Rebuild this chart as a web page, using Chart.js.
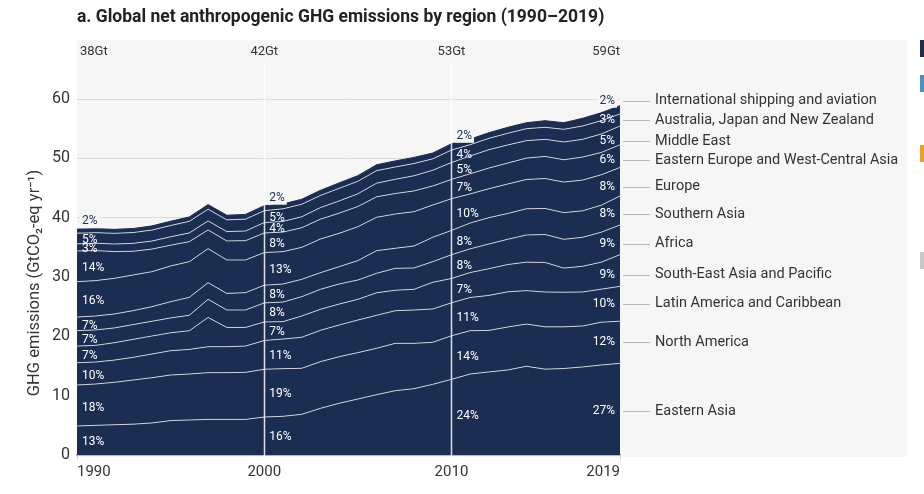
<!DOCTYPE html>
<html>
<head>
<meta charset="utf-8">
<title>Global net anthropogenic GHG emissions by region</title>
<script src="https://cdn.jsdelivr.net/npm/chart.js@4.4.1/dist/chart.umd.min.js"></script>
<style>
  html, body { margin: 0; padding: 0; background: #ffffff; }
  #wrap { width: 924px; height: 494px; }
</style>
</head>
<body>
<div id="wrap"><canvas id="ghgChart" width="924" height="494"></canvas></div>
<script>
// Years on the x axis
const years = [1990, 1991, 1992, 1993, 1994, 1995, 1996, 1997, 1998, 1999,
               2000, 2001, 2002, 2003, 2004, 2005, 2006, 2007, 2008, 2009,
               2010, 2011, 2012, 2013, 2014, 2015, 2016, 2017, 2018, 2019];
const tickYears = [1990, 2000, 2010, 2019];

// Emissions per region, GtCO2-eq per year (stacked bottom to top)
const easternAsia = [4.89, 5.0, 5.1, 5.2, 5.4, 5.8, 5.9, 6.0, 6.0, 6.0,
                     6.4, 6.52, 6.85, 7.86, 8.71, 9.44, 10.17, 10.84, 11.18, 11.91,
                     12.75, 13.65, 14.0, 14.33, 14.95, 14.47, 14.58, 14.84, 15.17, 15.45];
const northAmerica = [6.9, 6.97, 7.15, 7.44, 7.63, 7.68, 7.75, 7.88, 7.88, 7.93,
                      8.05, 8.03, 7.76, 7.87, 7.86, 7.81, 7.81, 7.98, 7.64, 7.08,
                      7.35, 7.3, 7.0, 7.24, 7.12, 7.13, 7.02, 6.9, 7.21, 7.1];
const latinAmerica = [3.76, 3.7, 3.75, 3.82, 3.99, 4.1, 4.15, 4.37, 4.37, 4.43,
                      4.84, 5.0, 5.22, 5.28, 5.34, 5.5, 5.56, 5.5, 5.62, 5.62,
                      5.55, 5.6, 5.9, 5.93, 5.63, 5.87, 5.84, 5.73, 5.57, 5.87];
const southEastAsia = [2.8, 2.81, 2.93, 3.03, 3.03, 3.02, 3.14, 4.94, 3.25, 3.14,
                       3.14, 2.92, 3.59, 3.54, 3.53, 3.48, 3.8, 3.45, 3.48, 4.49,
                       4.1, 4.2, 4.5, 4.6, 4.8, 4.98, 4.06, 4.33, 4.55, 5.35];
const africa = [2.61, 2.6, 2.49, 2.49, 2.49, 2.5, 2.61, 3.05, 2.94, 2.94,
                3.2, 3.31, 3.26, 3.37, 3.38, 3.26, 3.28, 3.69, 3.6, 3.49,
                4.0, 4.0, 4.16, 4.25, 4.58, 4.71, 4.85, 4.89, 5.05, 5.0];
const southernAsia = [2.29, 2.35, 2.35, 2.35, 2.46, 2.74, 3.02, 2.8, 2.8, 2.92,
                      2.98, 3.04, 2.92, 2.81, 2.92, 3.27, 3.82, 3.38, 3.71, 4.1,
                      4.1, 4.35, 4.44, 4.35, 4.42, 4.39, 4.5, 4.46, 4.55, 4.88];
const europe = [5.96, 5.96, 6.01, 6.01, 5.9, 6.02, 6.02, 5.74, 5.63, 5.51,
                5.51, 5.45, 5.4, 5.67, 5.62, 5.72, 5.62, 5.78, 5.78, 5.45,
                5.35, 4.9, 4.88, 4.97, 4.93, 5.05, 5.15, 5.18, 5.13, 4.82];
const easternEurope = [5.18, 5.06, 4.5, 4.0, 3.8, 3.5, 3.37, 3.15, 3.21, 3.26,
                       3.3, 3.3, 3.3, 3.35, 3.4, 3.4, 3.45, 3.45, 3.5, 3.2,
                       3.25, 3.4, 3.48, 3.53, 3.61, 3.72, 3.76, 3.88, 3.76, 3.81];
const middleEast = [1.2, 1.24, 1.28, 1.33, 1.36, 1.42, 1.47, 1.52, 1.58, 1.62,
                    1.75, 1.8, 1.85, 1.95, 2.05, 2.15, 2.3, 2.4, 2.55, 2.65,
                    2.85, 3.0, 3.1, 3.05, 2.94, 2.88, 3.0, 2.99, 3.11, 3.17];
const australiaJapanNz = [1.8, 1.78, 1.8, 1.82, 1.85, 1.9, 1.95, 1.98, 1.97, 2.0,
                          2.0, 2.12, 2.11, 2.04, 2.13, 2.1, 2.11, 2.07, 2.07, 1.92,
                          2.1, 1.9, 1.91, 1.96, 2.02, 2.03, 2.13, 2.25, 2.25, 2.03];
const shippingAviation = [0.68, 0.66, 0.67, 0.68, 0.7, 0.72, 0.75, 0.77, 0.78, 0.8,
                          0.85, 0.83, 0.84, 0.86, 0.92, 0.95, 0.99, 1.03, 1.03, 0.98,
                          1.05, 0.95, 0.95, 1.01, 1.0, 1.11, 1.11, 1.29, 1.34, 1.39];

const regionNames = ['Eastern Asia', 'North America', 'Latin America and Caribbean',
                     'South-East Asia and Pacific', 'Africa', 'Southern Asia', 'Europe',
                     'Eastern Europe and West-Central Asia', 'Middle East',
                     'Australia, Japan and New Zealand', 'International shipping and aviation'];
const regionSeries = [easternAsia, northAmerica, latinAmerica, southEastAsia, africa,
                      southernAsia, europe, easternEurope, middleEast,
                      australiaJapanNz, shippingAviation];

// Share labels printed in the bands (bottom to top)
const shares1990 = ['13%', '18%', '10%', '7%', '7%', '7%', '16%', '14%', '3%', '5%', '2%'];
const shares2000 = ['16%', '19%', '11%', '7%', '8%', '8%', '13%', '8%', '4%', '5%', '2%'];
const shares2010 = ['24%', '14%', '11%', '7%', '8%', '8%', '10%', '7%', '5%', '4%', '2%'];
const shares2019 = ['27%', '12%', '10%', '9%', '9%', '8%', '8%', '6%', '5%', '3%', '2%'];
const shareLabels = [shares1990, shares2000, shares2010, shares2019];
const totalLabels = ['38Gt', '42Gt', '53Gt', '59Gt'];

const NAVY = '#1c2d52';
const TEXT = '#333333';
const FAMILY = '"Roboto", "Liberation Sans", sans-serif';
Chart.defaults.font.family = FAMILY;

// vertical nudges (px) for the share labels, per column, and per band in the last column
const columnNudge = [2, 1, -1, 2];
const lastColumnNudge = [2, 0, 0, 4, 4, 4, 5, 4, 6, 0, 0];

const datasets = regionSeries.map((series, i) => ({
    label: regionNames[i],
    data: series.map((v, k) => ({ x: years[k], y: v })),
    backgroundColor: NAVY,
    borderColor: i === regionSeries.length - 1 ? NAVY : 'rgba(255,255,255,0.72)',
    borderWidth: 1,
    fill: i === 0 ? 'origin' : '-1',
    pointRadius: 0,
    tension: 0
}));

const decorPlugin = {
    id: 'decor',
    beforeDraw(chart) {
        const ctx = chart.ctx;
        const area = chart.chartArea;
        ctx.save();
        ctx.fillStyle = '#ffffff';
        ctx.fillRect(0, 0, chart.width, chart.height);
        // light panel behind the plot
        ctx.fillStyle = '#f6f6f6';
        ctx.fillRect(area.left, 40, 907 - area.left, area.bottom + 2 - 40);
        // edge of the neighbouring panel legend
        const swatches = [[40, NAVY], [75, '#4a90c8'], [145, '#f5a01a'], [252, '#c8c8c8']];
        swatches.forEach(([y, col]) => {
            ctx.fillStyle = col;
            ctx.fillRect(920, y, 6, 17);
        });
        ctx.restore();
    },
    afterDatasetsDraw(chart) {
        const ctx = chart.ctx;
        const xs = chart.scales.x;
        const area = chart.chartArea;
        ctx.save();
        ctx.strokeStyle = 'rgba(255,255,255,0.85)';
        ctx.lineWidth = 1.5;
        [2000, 2010].forEach(yr => {
            const x = Math.round(xs.getPixelForValue(yr)) + 0.5;
            ctx.beginPath();
            ctx.moveTo(x, 62);
            ctx.lineTo(x, area.bottom + 6);
            ctx.stroke();
        });
        ctx.restore();
    },
    afterDraw(chart) {
        const ctx = chart.ctx;
        const xs = chart.scales.x;
        const ys = chart.scales.y;
        const area = chart.chartArea;
        ctx.save();

        // title
        ctx.fillStyle = '#222222';
        ctx.font = 'bold 17.5px ' + FAMILY;
        ctx.textAlign = 'left';
        ctx.textBaseline = 'middle';
        ctx.fillText('a. Global net anthropogenic GHG emissions by region (1990\u20132019)', area.left, 18);

        // y axis title
        ctx.save();
        ctx.translate(35, 283);
        ctx.rotate(-Math.PI / 2);
        ctx.font = '16.5px ' + FAMILY;
        ctx.fillStyle = TEXT;
        ctx.textAlign = 'center';
        ctx.fillText('GHG emissions (GtCO\u2082-eq yr\u207B\u00B9)', 0, 0);
        ctx.restore();

        // totals above the plot
        ctx.font = '13px ' + FAMILY;
        ctx.fillStyle = TEXT;
        tickYears.forEach((yr, j) => {
            const x = xs.getPixelForValue(yr);
            if (j === 0) { ctx.textAlign = 'left'; ctx.fillText(totalLabels[j], x + 3, 52); }
            else if (j === tickYears.length - 1) { ctx.textAlign = 'right'; ctx.fillText(totalLabels[j], x, 52); }
            else { ctx.textAlign = 'center'; ctx.fillText(totalLabels[j], x, 52); }
        });

        // share labels in each band
        ctx.font = '12px ' + FAMILY;
        const last = regionSeries.length - 1;
        const rightYs = [];
        tickYears.forEach((yr, j) => {
            const k = years.indexOf(yr);
            const isLast = j === tickYears.length - 1;
            const x = isLast ? xs.getPixelForValue(yr) - 5 : xs.getPixelForValue(yr) + 5;
            ctx.textAlign = isLast ? 'right' : 'left';
            let base = 0;
            regionSeries.forEach((series, i) => {
                const top = base + series[k];
                let y;
                const txt = shareLabels[j][i];
                if (i === last) {
                    y = ys.getPixelForValue(top) - (isLast ? 5 : 8);
                    const w = ctx.measureText(txt).width;
                    ctx.fillStyle = '#f6f6f6';
                    ctx.fillRect(isLast ? x - w - 2 : x - 2, y - 7, w + 4, 14);
                    ctx.fillStyle = NAVY;
                } else {
                    const nudge = isLast ? lastColumnNudge[i] : columnNudge[j];
                    y = ys.getPixelForValue((base + top) / 2) + nudge;
                    ctx.fillStyle = '#ffffff';
                }
                ctx.fillText(txt, x, y);
                if (isLast) rightYs.push(y);
                base = top;
            });
        });

        // region names with leader lines
        ctx.font = '14.5px ' + FAMILY;
        ctx.textAlign = 'left';
        ctx.strokeStyle = '#b8b8b8';
        ctx.lineWidth = 1;
        rightYs.forEach((y, i) => {
            const yy = Math.round(y) + 0.5;
            ctx.beginPath();
            ctx.moveTo(area.right + 3, yy);
            ctx.lineTo(area.right + 30, yy);
            ctx.stroke();
            ctx.fillStyle = TEXT;
            ctx.fillText(regionNames[i], area.right + 35, y);
        });
        ctx.restore();
    }
};

new Chart(document.getElementById('ghgChart'), {
    type: 'line',
    data: { datasets: datasets },
    options: {
        responsive: false,
        animation: false,
        layout: { padding: { top: 99, right: 304, bottom: 0, left: 0 } },
        plugins: {
            legend: { display: false },
            tooltip: { enabled: false }
        },
        scales: {
            x: {
                type: 'linear',
                min: 1990,
                max: 2019,
                afterBuildTicks: scale => { scale.ticks = tickYears.map(v => ({ value: v })); },
                afterFit: scale => { scale.height = 39; },
                grid: { drawOnChartArea: false, drawTicks: true, tickLength: 5, color: '#d4d4d4' },
                border: { color: '#b8b8b8', width: 2 },
                ticks: {
                    align: 'inner',
                    color: TEXT,
                    padding: 3,
                    font: { size: 15 },
                    callback: v => String(v)
                }
            },
            y: {
                stacked: true,
                min: 0,
                max: 60,
                afterFit: scale => { scale.width = 77; },
                grid: {
                    drawTicks: false,
                    color: ctx => ctx.tick.value === 0 ? 'rgba(0,0,0,0)' : '#dcdcdc'
                },
                border: { display: false },
                ticks: { stepSize: 10, color: TEXT, padding: 7, font: { size: 16 } }
            }
        }
    },
    plugins: [decorPlugin]
});
</script>
</body>
</html>
